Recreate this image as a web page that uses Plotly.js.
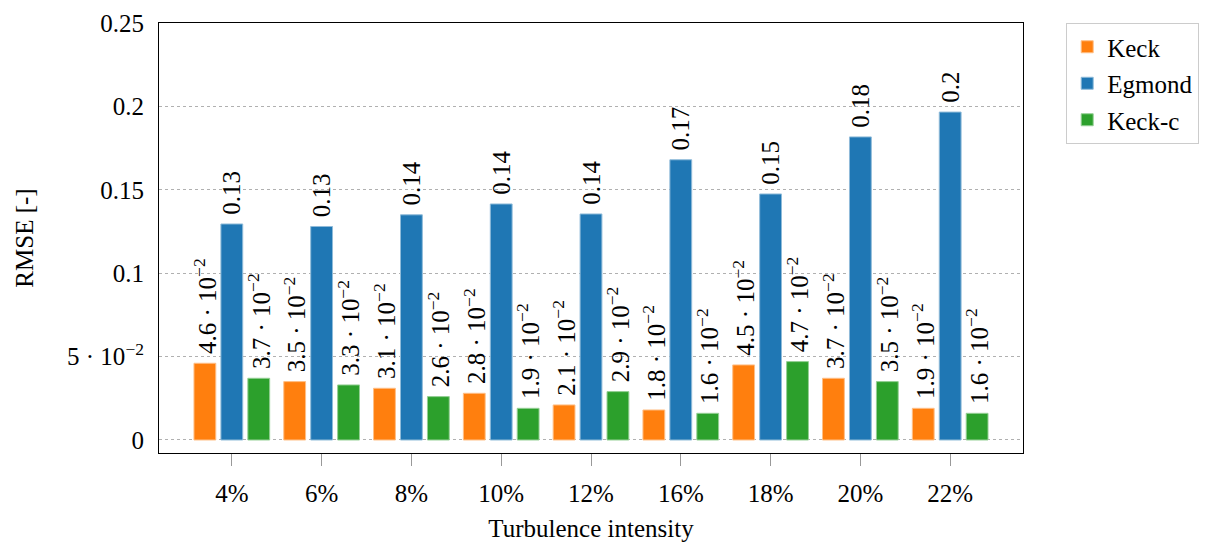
<!DOCTYPE html>
<html>
<head>
<meta charset="utf-8">
<script src="https://cdn.plot.ly/plotly-3.0.1.min.js"></script>
<style>
html,body{margin:0;padding:0;background:#fff;}
#chart{width:1222px;height:547px;}
</style>
</head>
<body>
<div id="chart"></div>
<script>
const categories = ["4%", "6%", "8%", "10%", "12%", "16%", "18%", "20%", "22%"];
const keck   = [0.046, 0.035, 0.031, 0.028, 0.021, 0.018, 0.045, 0.037, 0.019];
const egmond = [0.1295, 0.128, 0.135, 0.1415, 0.1355, 0.168, 0.1475, 0.1817, 0.1966];
const keckC  = [0.037, 0.033, 0.026, 0.019, 0.029, 0.016, 0.047, 0.035, 0.016];
const yTickVals = [0, 0.05, 0.1, 0.15, 0.2, 0.25];
const yTickText = ["0", "5 · 10<sup>−2</sup>", "0.1", "0.15", "0.2", "0.25"];

function fmt(v) {
  if (v < 0.1) return "\u00a0" + (v * 100).toFixed(1) + " · 10<sup>−2</sup>";
  return "\u00a0" + String(parseFloat(v.toFixed(2)));
}

const FONT = "Liberation Serif";
const FS = 25;
function mk(name, y, color, edge) {
  return {
    type: "bar", name: name, x: categories, y: y,
    text: y.map(fmt), textposition: "outside", textangle: -90,
    textfont: {family: FONT, size: FS, color: "#000"},
    cliponaxis: false, constraintext: "none",
    marker: {color: color, line: {color: edge, width: 1}},
    legendgroup: name, hoverinfo: "x+y"
  };
}
const data = [
  mk("Keck", keck, "#ff7f0e", "#ffbf86"),
  mk("Egmond", egmond, "#1f77b4", "#8fbbd9"),
  mk("Keck-c", keckC, "#2ca02c", "#95cf95")
];
const xr = [-0.811, 8.811];
const layout = {
  width: 1222, height: 547,
  margin: {l: 159, r: 199, t: 23, b: 94},
  paper_bgcolor: "#fff", plot_bgcolor: "#fff",
  font: {family: FONT, size: FS, color: "#000"},
  barmode: "group", bargap: 0.1, bargroupgap: 0.19,
  showlegend: true,
  legend: {x: 1.05, y: 1.0, xanchor: "left", yanchor: "top",
    bordercolor: "#cccccc", borderwidth: 1, font: {family: FONT, size: FS},
    traceorder: "grouped", tracegroupgap: 1, itemwidth: 30},
  xaxis: {type: "category", range: xr, showgrid: false, zeroline: false,
    ticks: "outside", ticklen: 12, tickcolor: "#999", tickwidth: 1,
    showline: true, linecolor: "#000", linewidth: 1, mirror: true,
    tickfont: {family: FONT, size: FS}, ticklabelstandoff: 6,
    title: {text: "Turbulence intensity", font: {family: FONT, size: FS}, standoff: 13}},
  xaxis2: {overlaying: "x", side: "top", type: "linear", range: xr,
    tickvals: [0,1,2,3,4,5,6,7,8], showticklabels: false, showgrid: false, zeroline: false,
    ticks: "outside", ticklen: 11, tickcolor: "#999", tickwidth: 1, showline: false},
  yaxis: {range: [-0.0078, 0.25], tickvals: yTickVals, ticktext: yTickText,
    showgrid: true, gridcolor: "#b0b0b0", griddash: "dot", gridwidth: 1,
    zeroline: false, ticks: "", showline: true, linecolor: "#000", linewidth: 1, mirror: true,
    tickfont: {family: FONT, size: FS}, ticklabelstandoff: 9,
    title: {text: "RMSE [-]", font: {family: FONT, size: FS}, standoff: 26}}
};
Plotly.newPlot("chart", data, layout, {staticPlot: true, displayModeBar: false});
</script>
</body>
</html>
